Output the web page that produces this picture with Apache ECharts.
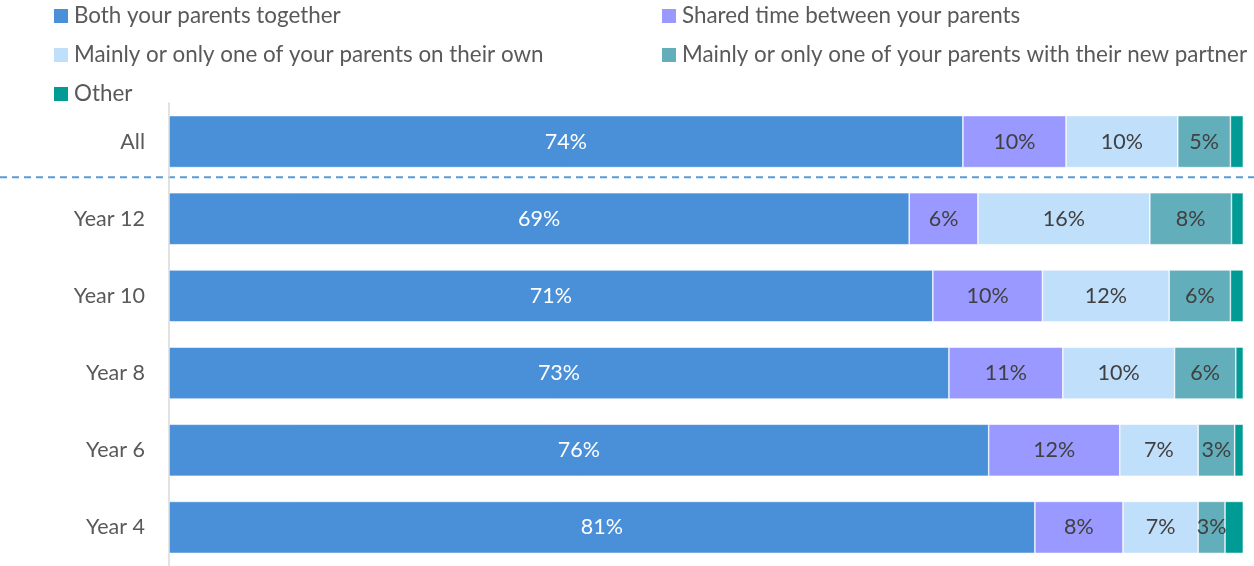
<!DOCTYPE html>
<html>
<head>
<meta charset="utf-8">
<title>Living arrangements by year group</title>
<script src="https://cdn.jsdelivr.net/npm/echarts@6/dist/echarts.min.js"></script>
<style>
  html, body { margin: 0; padding: 0; background: #ffffff; }
  #chart { width: 1254px; height: 566px; }
</style>
</head>
<body>
<div id="chart"></div>
<script>
// Groups, top to bottom
const categories = ['All', 'Year 12', 'Year 10', 'Year 8', 'Year 6', 'Year 4'];

// Share of students (%) in each living arrangement
const bothParents   = [73.9, 68.9, 71.1, 72.6, 76.3, 80.6];
const sharedTime    = [ 9.6,  6.4, 10.2, 10.6, 12.2,  8.2];
const oneParentOwn  = [10.4, 16.0, 11.8, 10.4,  7.3,  7.0];
const newPartner    = [ 4.9,  7.6,  5.7,  5.7,  3.4,  2.5];
const otherArr      = [ 1.2,  1.1,  1.2,  0.7,  0.8,  1.7];

const seriesNames = [
  'Both your parents together',
  'Shared time between your parents',
  'Mainly or only one of your parents on their own',
  'Mainly or only one of your parents with their new partner',
  'Other'
];

const FONT = 'Lato, "Liberation Sans", sans-serif';
const colors = ['#4A90D9', '#9999FF', '#C0DFFB', '#62AEBB', '#009B95'];
const labelColors = ['#ffffff', '#404040', '#404040', '#404040', null];
const values = [bothParents, sharedTime, oneParentOwn, newPartner, otherArr];

const chart = echarts.init(document.getElementById('chart'), null, { renderer: 'canvas' });

const series = seriesNames.map((name, i) => ({
  name: name,
  type: 'bar',
  stack: 'total',
  barWidth: 52,
  data: values[i],
  itemStyle: { color: colors[i], borderColor: '#ffffff', borderWidth: 0.6 },
  label: {
    show: labelColors[i] !== null,
    position: 'inside',
    color: labelColors[i] || '#404040',
    fontFamily: FONT,
    fontSize: 21.5,
    formatter: p => Math.round(p.value) + '%'
  },
  emphasis: { disabled: true }
}));

const legendText = { fontFamily: FONT, fontSize: 22.4, color: '#595959', padding: [0, 0, 0, 1] };
const legendCommon = {
  orient: 'vertical', top: 5, padding: 0,
  itemWidth: 14, itemHeight: 14, itemGap: 17,
  icon: 'rect', textStyle: legendText,
  itemStyle: { borderWidth: 0 },
  selectedMode: false
};

chart.setOption({
  animation: false,
  backgroundColor: '#ffffff',
  legend: [
    Object.assign({ left: 54, data: [seriesNames[0], seriesNames[2], seriesNames[4]] }, legendCommon),
    Object.assign({ left: 662, data: [seriesNames[1], seriesNames[3]] }, legendCommon)
  ],
  grid: { left: 169, top: 103, width: 1074.3, height: 468, containLabel: false },
  xAxis: {
    type: 'value', min: 0, max: 100,
    show: false
  },
  yAxis: {
    type: 'category',
    data: categories,
    inverse: true,
    axisLine: { show: true, lineStyle: { color: '#D9D9D9', width: 1.5 } },
    axisTick: { show: false },
    axisLabel: { fontFamily: FONT, fontSize: 21.5, color: '#595959', margin: 24 }
  },
  series: series
});

// Dashed divider between the overall row and the year groups
const yAll = chart.convertToPixel({ yAxisIndex: 0 }, categories[0]);
const yNext = chart.convertToPixel({ yAxisIndex: 0 }, categories[1]);
const yDivider = (yAll + yNext) / 2 - 3;
chart.setOption({
  graphic: [{
    type: 'line',
    shape: { x1: 0, y1: yDivider, x2: 1254, y2: yDivider },
    style: { stroke: '#5B9BD5', lineWidth: 2, lineDash: [7, 5] },
    silent: true
  }]
});
</script>
</body>
</html>
